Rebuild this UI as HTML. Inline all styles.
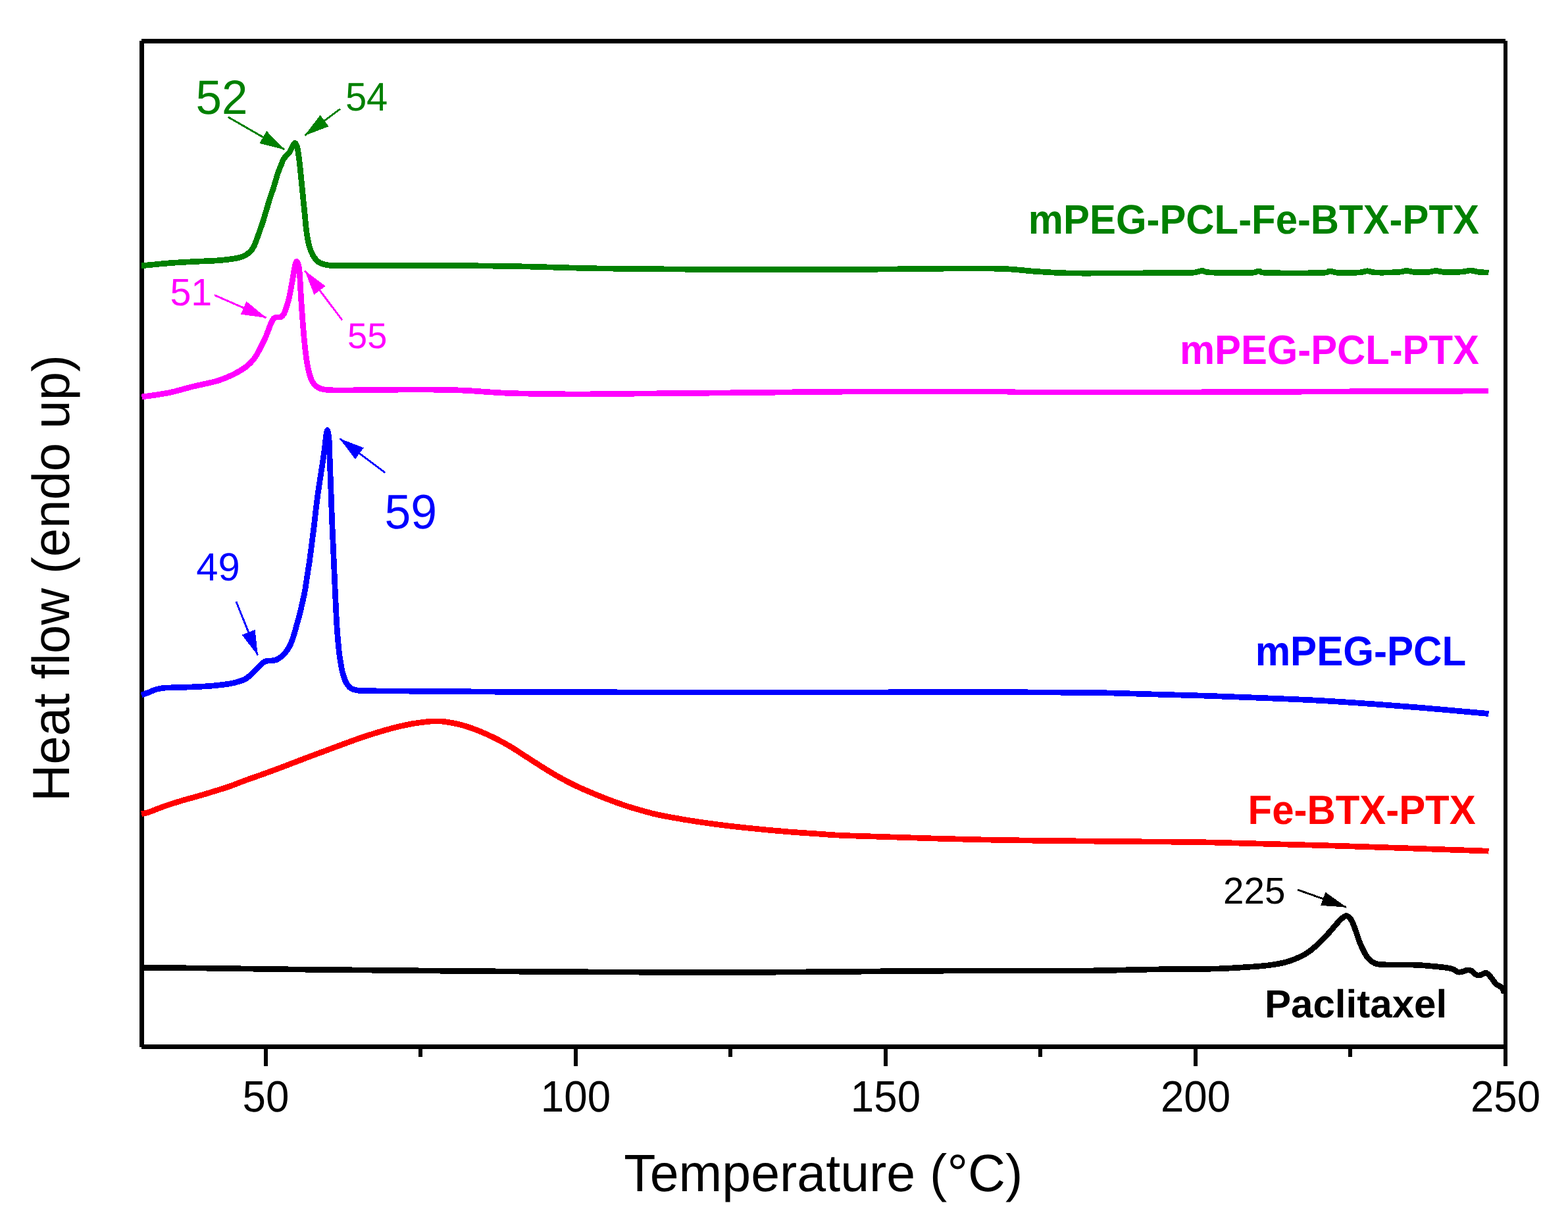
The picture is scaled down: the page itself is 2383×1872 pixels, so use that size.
<!DOCTYPE html>
<html lang="en"><head><meta charset="utf-8"><title>DSC thermograms</title>
<style>html,body{margin:0;padding:0;background:#fff;}body{width:2383px;height:1872px;overflow:hidden;}svg{display:block;}text{font-family:"Liberation Sans",Arial,Helvetica,sans-serif;text-rendering:geometricPrecision;}.b{font-weight:bold;}</style></head><body>
<svg width="2383" height="1872" viewBox="0 0 2383 1872" role="img" aria-label="DSC thermograms: heat flow versus temperature">
<rect width="2383" height="1872" fill="#fff"/>
<g shape-rendering="crispEdges" fill="#000">
<rect x="215" y="59" width="2073" height="7"/>
<rect x="212" y="62" width="7" height="1529"/>
<rect x="215" y="1587" width="2073" height="7"/>
<rect x="2285" y="62" width="6" height="1558"/>
<rect x="401" y="1594" width="6" height="26"/>
<rect x="872" y="1594" width="6" height="26"/>
<rect x="1343" y="1594" width="6" height="26"/>
<rect x="1814" y="1594" width="6" height="26"/>
<rect x="636" y="1594" width="6" height="12"/>
<rect x="1107" y="1594" width="6" height="12"/>
<rect x="1578" y="1594" width="6" height="12"/>
<rect x="2049" y="1594" width="6" height="12"/>
</g>
<g fill="none" stroke-width="8.7" stroke-linejoin="round" stroke-linecap="butt" shape-rendering="crispEdges">
<path d="M215.0,1470.2 C234.0,1470.4 299.2,1471.0 329.0,1471.3 C358.8,1471.6 372.5,1472.0 394.0,1472.3 C415.5,1472.6 415.3,1472.6 458.0,1473.1 C500.7,1473.5 573.5,1474.3 650.0,1475.0 C726.5,1475.7 830.0,1476.6 917.0,1477.0 C1004.0,1477.4 1108.8,1477.3 1172.0,1477.2 C1235.2,1477.1 1256.3,1476.6 1296.0,1476.3 C1335.7,1476.0 1360.0,1475.4 1410.0,1475.2 C1460.0,1475.0 1554.3,1475.0 1596.0,1475.0 C1637.7,1475.0 1634.3,1475.2 1660.0,1474.9 C1685.7,1474.6 1725.2,1473.4 1750.0,1473.0 C1774.8,1472.6 1792.5,1472.7 1809.0,1472.5 C1825.5,1472.3 1837.6,1472.3 1849.0,1472.0 C1860.4,1471.7 1866.5,1471.2 1877.5,1470.6 C1888.5,1469.9 1904.6,1469.0 1915.0,1468.1 C1925.4,1467.2 1932.7,1466.2 1940.0,1465.0 C1947.3,1463.8 1952.5,1462.6 1958.8,1460.6 C1965.0,1458.6 1972.3,1455.6 1977.5,1453.1 C1982.7,1450.6 1985.8,1448.6 1990.0,1445.6 C1994.2,1442.6 1998.3,1438.8 2002.5,1435.0 C2006.7,1431.2 2011.2,1426.5 2015.0,1422.5 C2018.8,1418.5 2022.1,1414.6 2025.0,1411.2 C2027.9,1407.9 2030.0,1405.2 2032.5,1402.5 C2035.0,1399.8 2037.7,1396.8 2040.0,1395.0 C2042.3,1393.2 2044.2,1391.4 2046.2,1391.6 C2048.3,1391.8 2050.6,1393.8 2052.5,1396.2 C2054.4,1398.7 2055.9,1402.5 2057.5,1406.2 C2059.1,1410.0 2060.4,1414.6 2061.9,1418.8 C2063.4,1422.9 2064.7,1427.3 2066.2,1431.2 C2067.8,1435.2 2069.4,1438.8 2071.2,1442.5 C2073.1,1446.2 2075.2,1450.6 2077.5,1453.8 C2079.8,1456.9 2082.3,1459.4 2085.0,1461.2 C2087.7,1463.1 2089.3,1464.2 2093.8,1465.0 C2098.2,1465.8 2102.0,1465.8 2111.4,1466.0 C2120.8,1466.2 2138.4,1465.8 2150.0,1466.2 C2161.6,1466.7 2171.9,1467.6 2181.2,1468.5 C2190.6,1469.4 2200.6,1470.5 2206.2,1471.9 C2211.9,1473.3 2212.3,1476.1 2215.0,1476.9 C2217.7,1477.7 2220.0,1477.0 2222.5,1476.5 C2225.0,1476.0 2227.7,1474.2 2230.0,1474.0 C2232.3,1473.8 2234.2,1473.9 2236.2,1475.0 C2238.3,1476.1 2240.6,1479.4 2242.5,1480.6 C2244.4,1481.8 2245.6,1482.2 2247.5,1482.1 C2249.4,1482.0 2252.0,1480.7 2253.8,1480.0 C2255.5,1479.3 2256.6,1477.9 2258.1,1478.1 C2259.6,1478.3 2260.7,1479.5 2262.5,1481.2 C2264.3,1483.0 2266.9,1486.4 2268.8,1488.8 C2270.6,1491.1 2272.1,1494.0 2273.8,1495.6 C2275.4,1497.2 2277.1,1496.9 2278.8,1498.1 C2280.4,1499.2 2282.5,1500.7 2283.8,1502.5 C2285.0,1504.3 2285.6,1507.9 2286.0,1509.0" stroke="#000000"/>
<path d="M215.0,1236.5 C216.7,1236.2 219.2,1236.4 225.0,1234.5 C230.8,1232.6 241.7,1227.9 250.0,1225.0 C258.3,1222.1 266.7,1219.5 275.0,1217.0 C283.3,1214.5 291.7,1212.4 300.0,1210.0 C308.3,1207.6 316.7,1205.1 325.0,1202.5 C333.3,1199.9 341.7,1197.4 350.0,1194.5 C358.3,1191.6 366.7,1188.0 375.0,1185.0 C383.3,1182.0 391.7,1179.2 400.0,1176.2 C408.3,1173.2 416.7,1170.1 425.0,1167.0 C433.3,1163.9 441.7,1160.7 450.0,1157.5 C458.3,1154.3 466.7,1151.1 475.0,1148.0 C483.3,1144.9 491.7,1141.8 500.0,1138.8 C508.3,1135.7 516.7,1132.5 525.0,1129.5 C533.3,1126.5 541.7,1123.3 550.0,1120.5 C558.3,1117.7 566.7,1115.0 575.0,1112.5 C583.3,1110.0 591.7,1107.6 600.0,1105.5 C608.3,1103.4 616.7,1101.5 625.0,1100.0 C633.3,1098.5 643.8,1097.2 650.0,1096.5 C656.2,1095.8 658.3,1096.0 662.5,1096.0 C666.7,1096.0 668.8,1095.6 675.0,1096.5 C681.2,1097.4 691.7,1099.1 700.0,1101.2 C708.3,1103.4 716.7,1106.3 725.0,1109.5 C733.3,1112.7 741.7,1116.4 750.0,1120.5 C758.3,1124.6 766.7,1129.1 775.0,1134.0 C783.3,1138.9 791.7,1144.7 800.0,1150.0 C808.3,1155.3 816.7,1160.8 825.0,1166.0 C833.3,1171.2 841.7,1176.3 850.0,1181.0 C858.3,1185.7 866.7,1190.0 875.0,1194.0 C883.3,1198.0 891.7,1201.5 900.0,1205.0 C908.3,1208.5 916.7,1211.8 925.0,1215.0 C933.3,1218.2 941.7,1221.2 950.0,1224.0 C958.3,1226.8 966.7,1229.2 975.0,1231.5 C983.3,1233.8 987.5,1235.4 1000.0,1238.0 C1012.5,1240.6 1033.3,1244.3 1050.0,1247.0 C1066.7,1249.7 1083.3,1251.9 1100.0,1254.0 C1116.7,1256.1 1133.3,1257.8 1150.0,1259.5 C1166.7,1261.2 1183.3,1262.7 1200.0,1264.0 C1216.7,1265.3 1234.0,1266.5 1250.0,1267.5 C1266.0,1268.5 1255.0,1268.6 1296.0,1270.0 C1337.0,1271.4 1429.3,1274.6 1496.0,1276.0 C1562.7,1277.4 1638.7,1277.8 1696.0,1278.5 C1753.3,1279.2 1782.7,1278.8 1840.0,1280.0 C1897.3,1281.2 1969.6,1283.3 2040.0,1285.5 C2110.4,1287.7 2225.4,1292.0 2262.5,1293.2" stroke="#ff0000"/>
<path d="M215.0,1056.0 C216.7,1055.4 221.2,1053.9 225.0,1052.5 C228.8,1051.1 233.3,1048.7 237.5,1047.5 C241.7,1046.3 243.8,1045.8 250.0,1045.2 C256.2,1044.8 266.7,1044.8 275.0,1044.5 C283.3,1044.2 291.7,1043.9 300.0,1043.5 C308.3,1043.1 316.7,1042.7 325.0,1041.9 C333.3,1041.1 343.8,1039.8 350.0,1038.8 C356.2,1037.7 359.2,1036.5 362.5,1035.6 C365.8,1034.7 367.7,1034.2 370.0,1033.2 C372.3,1032.2 373.6,1031.5 376.2,1029.5 C378.9,1027.5 382.5,1024.0 385.6,1021.0 C388.7,1018.0 392.6,1013.6 395.0,1011.2 C397.4,1008.9 398.8,1007.9 400.0,1006.9 C401.2,1005.9 401.7,1005.5 402.5,1005.1 C403.3,1004.7 404.2,1004.6 405.0,1004.4 C405.8,1004.2 406.0,1004.2 407.5,1004.1 C409.0,1004.0 411.7,1004.0 413.8,1003.8 C415.8,1003.5 417.9,1003.3 420.0,1002.5 C422.1,1001.7 424.2,1000.3 426.2,998.8 C428.3,997.2 430.6,995.2 432.5,993.1 C434.4,991.0 435.9,988.8 437.5,986.2 C439.1,983.8 440.6,980.8 441.9,978.1 C443.1,975.4 444.0,973.0 445.0,970.0 C446.0,967.0 447.1,963.5 448.1,960.0 C449.1,956.5 450.3,952.2 451.2,948.8 C452.2,945.3 452.9,942.5 453.8,939.4 C454.6,936.3 455.5,932.9 456.2,930.0 C457.0,927.1 457.0,927.0 458.1,922.0 C459.2,917.0 461.5,907.8 463.0,900.0 C464.5,892.2 465.6,883.3 466.9,875.0 C468.2,866.7 469.6,858.3 470.8,850.0 C471.9,841.7 472.9,833.3 474.0,825.0 C475.1,816.7 475.8,811.7 477.2,800.0 C478.7,788.3 480.1,772.9 482.5,755.0 C484.9,737.1 489.8,707.2 491.9,692.5 C494.0,677.8 494.1,673.5 495.0,667.0 C495.9,660.5 496.7,653.5 497.5,653.5 C498.3,653.5 499.4,660.5 500.0,667.0 C500.6,673.5 500.4,677.8 501.0,692.5 C501.6,707.2 502.6,737.1 503.3,755.0 C504.0,772.9 504.3,784.2 505.0,800.0 C505.7,815.8 506.5,833.3 507.2,850.0 C508.0,866.7 508.6,883.3 509.4,900.0 C510.2,916.7 511.0,935.4 511.9,950.0 C512.8,964.6 513.9,976.9 515.0,987.5 C516.1,998.1 517.7,1007.2 518.8,1013.5 C519.8,1019.8 520.2,1021.0 521.5,1025.0 C522.8,1029.0 524.2,1034.0 526.2,1037.5 C528.3,1041.0 530.6,1044.3 533.8,1046.2 C536.9,1048.2 540.5,1048.6 545.0,1049.2 C549.5,1049.8 544.2,1049.6 561.0,1049.8 C577.8,1050.0 609.0,1050.0 646.0,1050.3 C683.0,1050.6 726.3,1051.1 783.0,1051.4 C839.7,1051.7 899.8,1051.9 986.0,1052.0 C1072.2,1052.1 1214.3,1052.1 1300.0,1052.0 C1385.7,1051.9 1441.3,1051.4 1500.0,1051.5 C1558.7,1051.6 1618.5,1052.1 1652.0,1052.4 C1685.5,1052.7 1687.2,1053.1 1701.0,1053.4 C1714.8,1053.7 1724.8,1054.1 1735.0,1054.4 C1745.2,1054.7 1751.2,1054.9 1762.0,1055.2 C1772.8,1055.5 1787.0,1055.9 1800.0,1056.3 C1813.0,1056.7 1818.3,1056.7 1840.0,1057.5 C1861.7,1058.3 1900.8,1059.8 1930.0,1061.0 C1959.2,1062.2 1980.0,1062.9 2015.0,1065.0 C2050.0,1067.1 2098.8,1070.5 2140.0,1073.8 C2181.2,1077.0 2242.1,1082.7 2262.5,1084.5" stroke="#0000ff"/>
<path d="M215.5,603.0 C219.2,602.5 229.7,601.2 237.5,600.0 C245.3,598.8 253.3,597.6 262.5,595.5 C271.7,593.4 281.2,590.3 292.5,587.5 C303.8,584.7 319.6,581.9 330.0,578.8 C340.4,575.6 347.7,572.3 355.0,568.8 C362.3,565.2 368.5,561.5 373.8,557.5 C379.0,553.5 382.7,549.6 386.2,545.0 C389.8,540.4 392.3,535.0 395.0,530.0 C397.7,525.0 400.4,519.6 402.5,515.0 C404.6,510.4 405.9,506.5 407.5,502.5 C409.1,498.5 410.4,494.4 411.9,491.2 C413.4,488.1 414.7,485.3 416.2,483.8 C417.8,482.2 419.6,482.2 421.2,481.9 C422.9,481.6 424.6,482.6 426.2,481.9 C427.9,481.2 429.8,479.9 431.2,477.5 C432.7,475.1 433.8,471.2 435.0,467.5 C436.2,463.8 437.6,459.6 438.8,455.0 C439.9,450.4 440.9,445.4 441.9,440.0 C442.9,434.6 444.0,428.3 445.0,422.5 C446.0,416.7 447.1,409.2 448.1,405.0 C449.1,400.8 450.1,396.5 451.2,397.5 C452.4,398.5 454.1,403.8 455.0,411.2 C455.9,418.8 456.2,431.0 456.9,442.5 C457.6,454.0 458.5,467.5 459.4,480.0 C460.3,492.5 461.4,506.0 462.5,517.5 C463.6,529.0 464.8,539.8 466.2,548.8 C467.7,557.7 469.4,565.4 471.2,571.2 C473.1,577.1 474.9,580.8 477.5,584.0 C480.1,587.2 483.5,589.1 487.0,590.5 C490.5,591.9 492.4,592.1 498.8,592.5 C505.1,592.9 504.0,593.1 525.0,593.0 C546.0,592.9 595.8,592.0 625.0,592.0 C654.2,592.0 675.0,592.1 700.0,593.0 C725.0,593.9 745.8,596.5 775.0,597.5 C804.2,598.5 850.0,598.8 875.0,599.0 C900.0,599.2 879.2,598.9 925.0,598.5 C970.8,598.1 1087.5,597.1 1150.0,596.5 C1212.5,595.9 1237.5,595.2 1300.0,595.0 C1362.5,594.8 1483.3,594.8 1525.0,595.0 C1566.7,595.2 1506.3,595.8 1550.0,596.0 C1593.7,596.2 1729.3,596.1 1787.0,596.0 C1844.7,595.9 1816.8,595.8 1896.0,595.5 C1975.2,595.2 2201.0,594.2 2262.0,594.0" stroke="#ff00ff"/>
<path d="M215.0,403.8 C222.5,403.1 245.8,400.7 260.0,399.6 C274.2,398.5 289.2,397.9 300.0,397.3 C310.8,396.7 318.3,396.6 325.0,396.2 C331.7,395.9 334.4,395.6 340.0,395.0 C345.6,394.4 353.5,393.5 358.8,392.5 C364.0,391.5 367.7,390.4 371.2,388.8 C374.8,387.1 377.6,384.8 380.0,382.5 C382.4,380.2 383.8,378.3 385.6,375.0 C387.4,371.7 389.0,366.7 390.6,362.5 C392.2,358.3 393.5,354.2 395.0,350.0 C396.5,345.8 398.0,341.7 399.4,337.5 C400.8,333.3 401.9,329.2 403.1,325.0 C404.4,320.8 405.6,316.7 406.9,312.5 C408.1,308.3 409.2,304.2 410.6,300.0 C412.0,295.8 413.6,291.7 415.0,287.5 C416.4,283.3 417.5,279.2 418.8,275.0 C420.0,270.8 421.0,266.7 422.5,262.5 C424.0,258.3 426.0,253.5 427.5,250.0 C429.0,246.5 429.2,244.4 431.2,241.2 C433.3,238.1 437.8,234.4 440.0,231.2 C442.2,228.1 443.1,224.8 444.5,222.5 C445.9,220.2 446.9,217.5 448.1,217.5 C449.3,217.5 450.7,220.2 451.5,222.5 C452.3,224.8 452.4,226.7 453.1,231.2 C453.8,235.8 454.8,242.7 455.6,250.0 C456.4,257.3 457.3,266.7 458.1,275.0 C458.9,283.3 459.8,291.7 460.6,300.0 C461.4,308.3 462.3,316.7 463.1,325.0 C463.9,333.3 464.7,342.7 465.6,350.0 C466.5,357.3 467.6,363.5 468.8,368.8 C469.9,374.0 471.0,377.5 472.5,381.2 C474.0,385.0 475.4,388.3 477.5,391.2 C479.6,394.2 481.9,396.9 485.0,398.8 C488.1,400.6 491.2,401.7 496.2,402.5 C501.2,403.3 499.4,403.6 515.0,403.8 C530.6,403.9 562.5,403.4 590.0,403.3 C617.5,403.2 661.7,403.3 680.0,403.3 C698.3,403.3 680.0,403.2 700.0,403.5 C720.0,403.8 764.2,404.2 800.0,405.0 C835.8,405.8 865.0,407.2 915.0,408.0 C965.0,408.8 1035.8,409.2 1100.0,409.5 C1164.2,409.8 1241.7,409.8 1300.0,409.5 C1358.3,409.2 1412.5,408.2 1450.0,408.0 C1487.5,407.8 1504.2,407.8 1525.0,408.5 C1545.8,409.2 1558.3,411.4 1575.0,412.5 C1591.7,413.6 1604.2,414.6 1625.0,415.0 C1645.8,415.4 1671.5,415.1 1700.0,415.0 C1728.5,414.9 1776.8,414.7 1796.0,414.5 C1815.2,414.3 1809.8,414.5 1815.0,414.0 C1820.2,413.5 1823.3,411.5 1827.5,411.5 C1831.7,411.5 1827.9,413.5 1840.0,414.0 C1852.1,414.5 1887.8,414.8 1900.0,414.5 C1912.2,414.2 1908.7,412.0 1913.0,412.0 C1917.3,412.0 1910.2,414.1 1926.0,414.5 C1941.8,414.9 1992.2,414.9 2008.0,414.5 C2023.8,414.1 2016.7,412.0 2021.0,412.0 C2025.3,412.0 2026.5,414.2 2034.0,414.5 C2041.5,414.8 2058.7,414.4 2066.0,414.0 C2073.3,413.6 2074.0,411.8 2078.0,411.8 C2082.0,411.8 2082.2,413.7 2090.0,414.0 C2097.8,414.3 2117.1,413.9 2125.0,413.5 C2132.9,413.1 2133.3,411.5 2137.5,411.5 C2141.7,411.5 2144.6,413.2 2150.0,413.5 C2155.4,413.8 2164.6,413.8 2170.0,413.5 C2175.4,413.2 2178.3,411.5 2182.5,411.5 C2186.7,411.5 2188.4,413.2 2195.0,413.5 C2201.6,413.8 2215.3,413.4 2222.0,413.0 C2228.7,412.6 2230.7,410.9 2235.0,411.0 C2239.3,411.1 2243.4,413.0 2248.0,413.5 C2252.6,414.0 2260.1,413.9 2262.5,414.0" stroke="#008000"/>
</g>
<g shape-rendering="crispEdges">
<line x1="346.6" y1="177.8" x2="432.3" y2="227.2" stroke="#008000" stroke-width="2.9"/><polygon points="432.8,227.5 394.4,217.8 405.2,199.1" fill="#008000"/>
<line x1="516.9" y1="165.6" x2="463.1" y2="205.9" stroke="#008000" stroke-width="2.9"/><polygon points="462.8,206.2 486.7,174.8 499.6,192.1" fill="#008000"/>
<line x1="326.0" y1="448.5" x2="404.5" y2="482.8" stroke="#ff00ff" stroke-width="2.9"/><polygon points="405.0,483.0 365.9,477.7 374.5,457.9" fill="#ff00ff"/>
<line x1="520.2" y1="486.5" x2="463.4" y2="411.4" stroke="#ff00ff" stroke-width="2.9"/><polygon points="463.1,411.0 494.6,434.8 477.4,447.8" fill="#ff00ff"/>
<line x1="585.2" y1="718.1" x2="516.3" y2="666.5" stroke="#0000ff" stroke-width="2.9"/><polygon points="515.9,666.2 552.8,680.4 539.9,697.7" fill="#0000ff"/>
<line x1="358.9" y1="913.9" x2="391.6" y2="995.5" stroke="#0000ff" stroke-width="2.9"/><polygon points="391.8,996.0 367.6,964.7 387.7,956.7" fill="#0000ff"/>
<line x1="1971.9" y1="1351.9" x2="2046.0" y2="1378.3" stroke="#000000" stroke-width="2.9"/><polygon points="2046.5,1378.5 2007.1,1375.9 2014.3,1355.6" fill="#000000"/>
</g>
<text x="404" y="1690" font-size="65" fill="#000000" text-anchor="middle" transform="matrix(0.97972 0 0 1.02718 8.197 -46.795)">50</text>
<text x="875" y="1690" font-size="65" fill="#000000" text-anchor="middle" transform="matrix(0.97972 0 0 1.02718 17.751 -46.795)">100</text>
<text x="1346" y="1690" font-size="65" fill="#000000" text-anchor="middle" transform="matrix(0.97972 0 0 1.02718 27.305 -46.795)">150</text>
<text x="1817" y="1690" font-size="65" fill="#000000" text-anchor="middle" transform="matrix(0.97972 0 0 1.02718 36.859 -46.795)">200</text>
<text x="2288" y="1690" font-size="65" fill="#000000" text-anchor="middle" transform="matrix(0.97972 0 0 1.02718 46.413 -46.795)">250</text>
<text x="1250" y="1810" font-size="78" fill="#000000" text-anchor="middle" transform="matrix(1.01147 0 0 1.02447 -13.089 -44.722)">Temperature (°C)</text>
<text x="0" y="0" font-size="78" fill="#000000" text-anchor="middle" transform="matrix(1.01926 0 0 0.99690 -1.261 3.118) translate(104.5 878) rotate(-90)">Heat flow (endo up)</text>
<text x="2248" y="355" font-size="59.5" fill="#008000" text-anchor="end" class="b" transform="matrix(1.00599 0 0 1.05248 -13.553 -18.616)">mPEG-PCL-Fe-BTX-PTX</text>
<text x="2248" y="552.5" font-size="59.5" fill="#ff00ff" text-anchor="end" class="b" transform="matrix(1.00454 0 0 1.04737 -10.351 -26.106)">mPEG-PCL-PTX</text>
<text x="2228" y="1010" font-size="59.5" fill="#0000ff" text-anchor="end" class="b" transform="matrix(1.00955 0 0 1.06097 -21.172 -60.892)">mPEG-PCL</text>
<text x="2243" y="1251" font-size="59.5" fill="#ff0000" text-anchor="end" class="b" transform="matrix(1.00640 0 0 1.04553 -14.749 -56.377)">Fe-BTX-PTX</text>
<text x="2198" y="1546" font-size="59.5" fill="#000000" text-anchor="end" class="b" transform="matrix(1.00953 0 0 1.00531 -19.770 -8.460)">Paclitaxel</text>
<text x="338" y="173" font-size="72" fill="#008000" text-anchor="middle" transform="matrix(0.98520 0 0 1.01433 3.945 -2.903)">52</text>
<text x="557.5" y="169.5" font-size="58" fill="#008000" text-anchor="middle" transform="matrix(0.99869 0 0 1.04543 0.352 -8.809)">54</text>
<text x="286" y="464.5" font-size="57" fill="#ff00ff" text-anchor="middle" transform="matrix(1.00690 0 0 1.02015 2.354 -9.726)">51</text>
<text x="558.5" y="530" font-size="55" fill="#ff00ff" text-anchor="middle" transform="matrix(0.98342 0 0 0.99192 8.916 3.092)">55</text>
<text x="624.5" y="804" font-size="72" fill="#0000ff" text-anchor="middle" transform="matrix(0.99416 0 0 1.02569 3.362 -21.577)">59</text>
<text x="331" y="881.5" font-size="58" fill="#0000ff" text-anchor="middle" transform="matrix(1.03068 0 0 1.02931 -9.612 -25.780)">49</text>
<text x="1905.5" y="1372.5" font-size="56" fill="#000000" text-anchor="middle" transform="matrix(1.00965 0 0 1.01342 -17.686 -18.249)">225</text>
</svg></body></html>
